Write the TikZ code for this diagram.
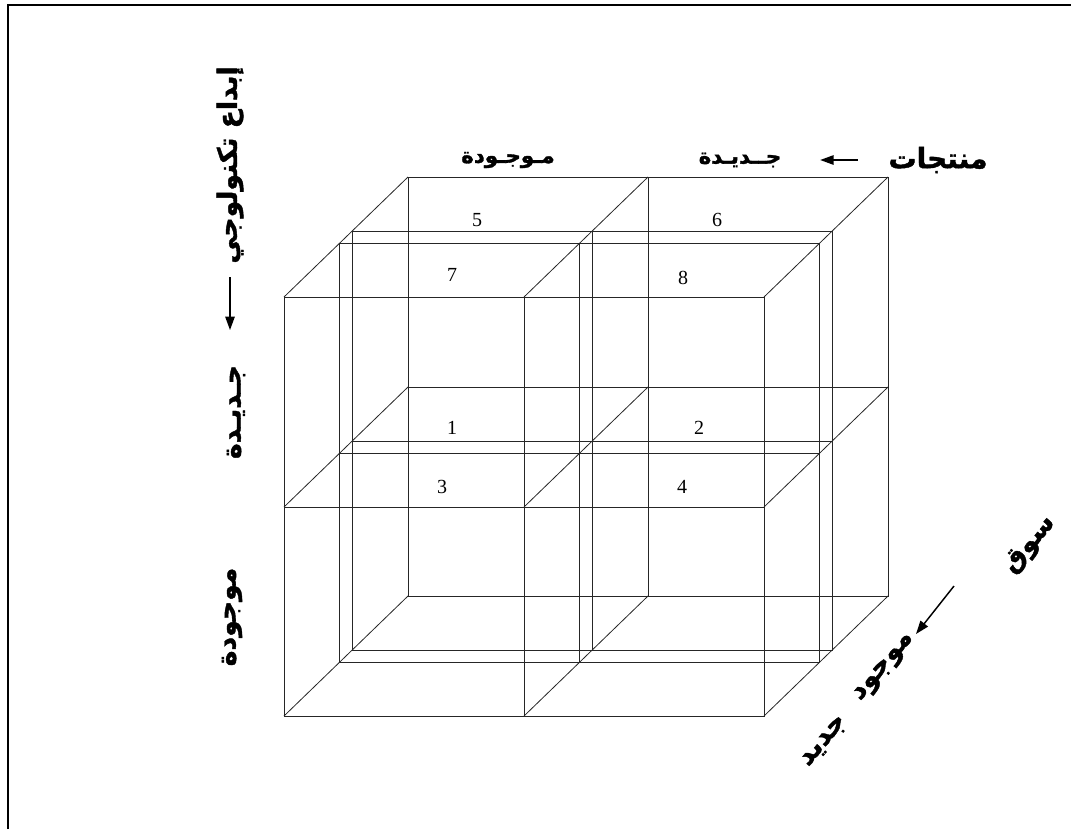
\documentclass[tikz,border=0pt]{standalone}
\usepackage{fontspec}
\setmainfont{Liberation Serif}
\newfontfamily\arabicfont[Script=Arabic, BoldFeatures={FakeBold=1.5}]{DejaVu Sans}
\TeXXeTstate=1
\usetikzlibrary{arrows.meta}

\begin{document}
\begin{tikzpicture}[x=0.75pt, y=-0.75pt,
  edge/.style={draw=black!85, line width=0.6pt},
  cellnum/.style={font=\fontsize{15}{15}\selectfont, inner sep=0pt},
  arlabel/.style={font=\arabicfont\bfseries\fontsize{16}{18}\selectfont, inner sep=0pt},
  axislabel/.style={arlabel, font=\arabicfont\bfseries\fontsize{20}{22}\selectfont},
  arrow/.style={-{Triangle[length=10pt, width=7pt]}, line width=1.1pt}]

\useasboundingbox (0,0) rectangle (1071,829);
\draw[line width=1.2pt] (8,829) -- (8,5) -- (1071,5);

% front, two middle slices and back face
\foreach \t in {0,0.45,0.55,1} {
  \begin{scope}[shift={(\t*124,-\t*120)}]
    \draw[edge] (284,297) rectangle (764,716);
    \draw[edge] (524,297) -- (524,716);
    \draw[edge] (284,507) -- (764,507);
  \end{scope}
}
% depth edges
\foreach \x in {284,524,764}
  \foreach \y in {297,507,716}
    \draw[edge] (\x,\y) -- ++(124,-120);

% cell numbers
\node[cellnum] (c5) at (477,220) {5};
\node[cellnum] (c6) at (717,220) {6};
\node[cellnum] (c7) at (452,275) {7};
\node[cellnum] (c8) at (683,278) {8};
\node[cellnum] (c1) at (452,428) {1};
\node[cellnum] (c2) at (699,428) {2};
\node[cellnum] (c3) at (442,487) {3};
\node[cellnum] (c4) at (682,487) {4};

% products axis
\node[arlabel, font=\arabicfont\bfseries\fontsize{21}{24}\selectfont] (products) at (938,160) {\beginR منتجات\endR};
\node[arlabel] (newtop) at (740,160) {\beginR جــديـدة\endR};
\node[arlabel] (existtop) at (508,160) {\beginR مـوجـودة\endR};
\draw[arrow, shorten <=23pt, shorten >=29pt] (products.west) -- (newtop.east);

% technology axis
\node[axislabel, rotate=90] (innov) at (230,165) {\beginR إبداع تكنولوجي\endR};
\node[axislabel, rotate=90] (newleft) at (236,412) {\beginR جـديـدة\endR};
\node[axislabel, rotate=90] (existleft) at (232,617) {\beginR موجودة\endR};
\draw[arrow, shorten <=10pt, shorten >=26pt] (innov.west) -- (innov.west |- newleft.east);

% market axis
\node[axislabel, rotate=50] (market) at (1030,545) {\beginR سوق\endR};
\node[axislabel, rotate=50] (existright) at (885,668) {\beginR موجود\endR};
\node[axislabel, rotate=50] (newright) at (825,742) {\beginR جديد\endR};
\draw[arrow] ([shift={(69,-82)}]existright.center) -- ([shift={(31,-34)}]existright.center);
\end{tikzpicture}
\end{document}
